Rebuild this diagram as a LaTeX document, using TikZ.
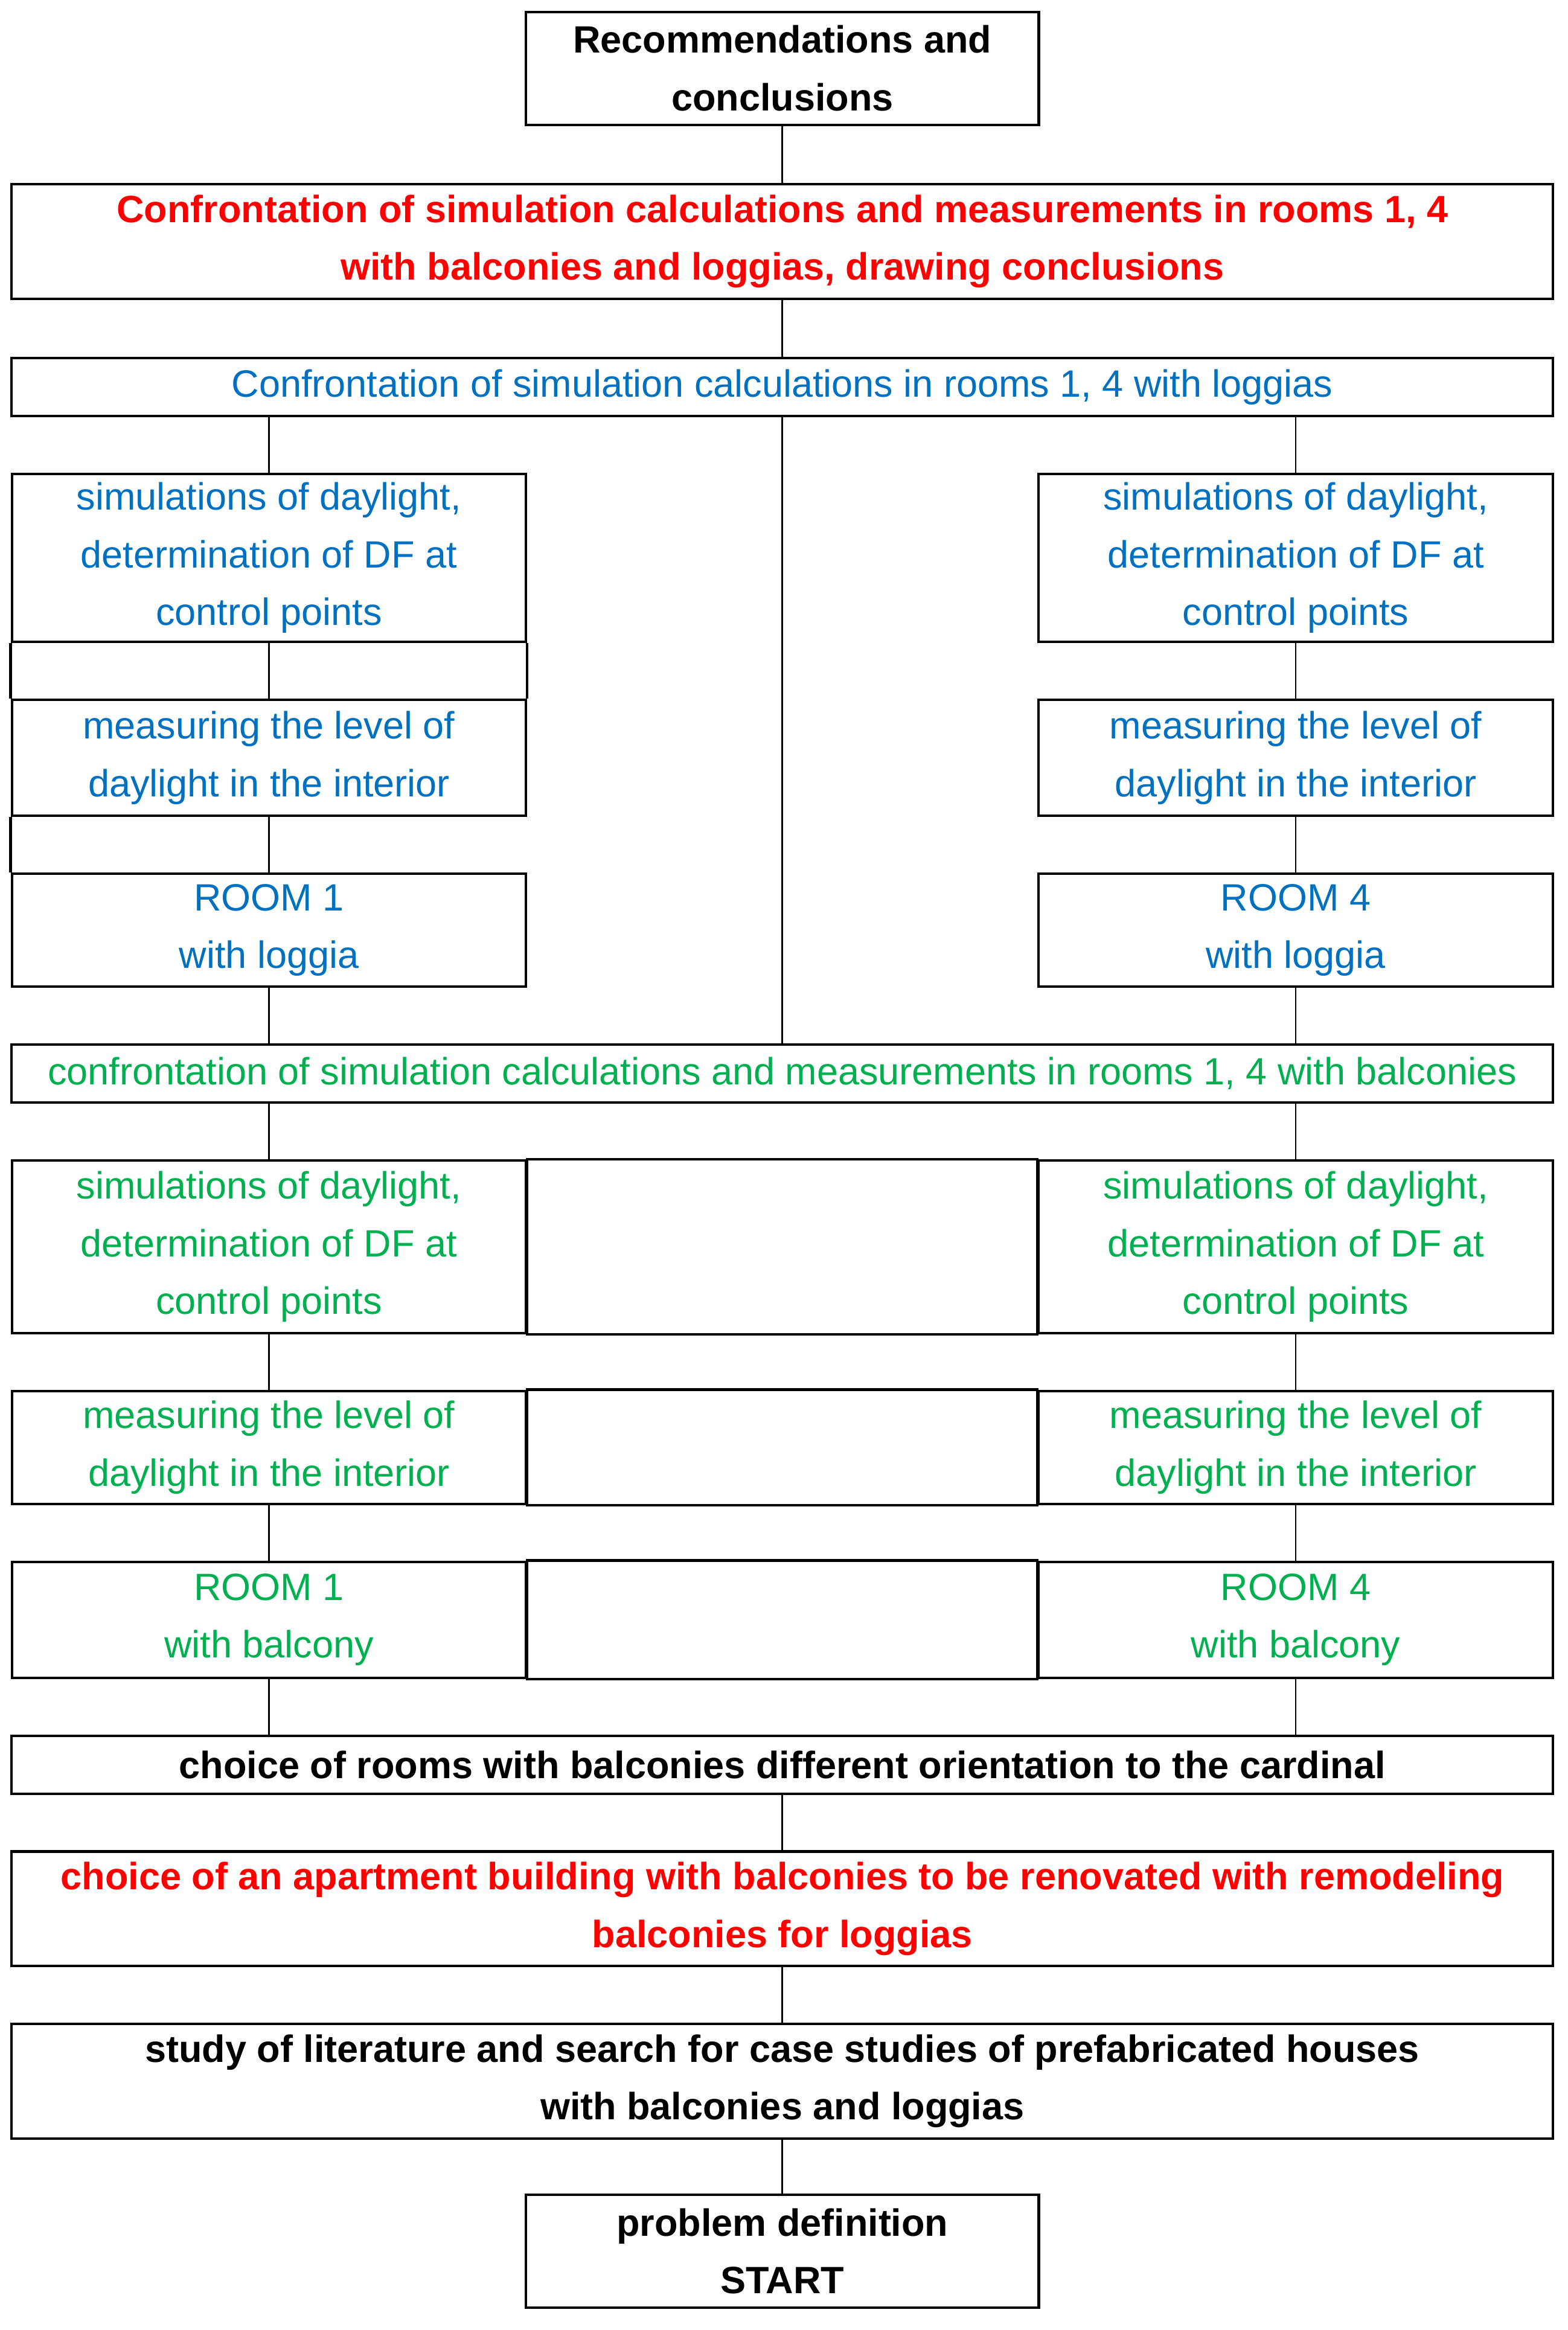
\documentclass[tikz,border=0pt]{standalone}
\usepackage{fontspec}
\setmainfont{Liberation Sans}
\definecolor{cred}{RGB}{255,0,0}
\definecolor{cblue}{RGB}{0,112,192}
\definecolor{cgreen}{RGB}{0,176,80}
\begin{document}
\begin{tikzpicture}[x=0.025cm,y=-0.025cm,
  box/.style={draw,line width=1.2pt,align=center,inner sep=0pt,font=\fontsize{18.2}{27.6}\selectfont},
  full/.style={box,minimum width=25.925cm},
  side/.style={box,minimum width=8.65cm},
  mid/.style={box,minimum width=8.625cm},
  conn/.style={line width=0.8pt},
  R/.style={text=cred,font=\fontsize{18.2}{27.6}\selectfont\bfseries},
  K/.style={text=black,font=\fontsize{18.2}{27.6}\selectfont\bfseries},
  B/.style={text=cblue},
  G/.style={text=cgreen}]
\useasboundingbox[fill=white] (0,0) rectangle (1055,1568);
\node[mid,K,minimum height=1.9cm] (top) at (526.5,46) {Recommendations and\\conclusions};
\node[full,R,minimum height=1.925cm] (red1) at (526.5,162.5) {Confrontation of simulation calculations and measurements in rooms 1, 4\\with balconies and loggias, drawing conclusions};
\node[full,B,minimum height=0.975cm] (blw) at (526.5,260.5) {Confrontation of simulation calculations in rooms 1, 4 with loggias};
\node[side,B,minimum height=2.825cm] (bsL) at (181,375.5) {simulations of daylight,\\determination of DF at\\control points};
\node[side,B,minimum height=2.825cm] (bsR) at (872,375.5) {simulations of daylight,\\determination of DF at\\control points};
\node[side,B,minimum height=1.95cm] (bmL) at (181,510) {measuring the level of\\daylight in the interior};
\node[side,B,minimum height=1.95cm] (bmR) at (872,510) {measuring the level of\\daylight in the interior};
\node[side,B,minimum height=1.9cm] (brL) at (181,626) {ROOM 1\\with loggia};
\node[side,B,minimum height=1.9cm] (brR) at (872,626) {ROOM 4\\with loggia};
\node[full,G,minimum height=0.975cm] (gw) at (526.5,722.5) {confrontation of simulation calculations and measurements in rooms 1, 4 with balconies};
\node[side,G,minimum height=2.9cm] (gsL) at (181,839) {simulations of daylight,\\determination of DF at\\control points};
\node[side,G,minimum height=2.9cm] (gsR) at (872,839) {simulations of daylight,\\determination of DF at\\control points};
\node[side,G,minimum height=1.9cm] (gmL) at (181,974) {measuring the level of\\daylight in the interior};
\node[side,G,minimum height=1.9cm] (gmR) at (872,974) {measuring the level of\\daylight in the interior};
\node[side,G,minimum height=1.95cm] (grL) at (181,1090) {ROOM 1\\with balcony};
\node[side,G,minimum height=1.95cm] (grR) at (872,1090) {ROOM 4\\with balcony};
\node[full,K,minimum height=0.975cm] (choice) at (526.5,1187.5) {choice of rooms with balconies different orientation to the cardinal};
\node[full,R,minimum height=1.925cm] (red2) at (526.5,1284.5) {choice of an apartment building with balconies to be renovated with remodeling\\balconies for loggias};
\node[full,K,minimum height=1.925cm] (study) at (526.5,1400.5) {study of literature and search for case studies of prefabricated houses\\with balconies and loggias};
\node[mid,K,minimum height=1.9cm] (start) at (526.5,1515) {problem definition\\START};
% middle cells of green rows
\draw[line width=1.2pt] (gsL.north east) rectangle (gsR.south west);
\draw[line width=1.2pt] (gmL.north east) rectangle (gmR.south west);
\draw[line width=1.2pt] (grL.north east) rectangle (grR.south west);
% extra side lines left
\draw[line width=1.2pt] (bsL.south west) -- (bmL.north west);
\draw[line width=1.2pt] (bsL.south east) -- (bmL.north east);
\draw[line width=1.2pt] (bmL.south west) -- (brL.north west);
% connectors
\draw[conn] (top) -- (red1);
\draw[conn] (red1) -- (blw);
\draw[conn] (blw) -- (gw);
\draw[conn] (bsL.north) -- (bsL.north |- blw.south);
\draw[conn] (bsR.north) -- (bsR.north |- blw.south);
\draw[conn] (bsL) -- (bmL);
\draw[conn] (bsR) -- (bmR);
\draw[conn] (bmL) -- (brL);
\draw[conn] (bmR) -- (brR);
\draw[conn] (brL.south) -- (brL.south |- gw.north);
\draw[conn] (brR.south) -- (brR.south |- gw.north);
\draw[conn] (gsL.north) -- (gsL.north |- gw.south);
\draw[conn] (gsR.north) -- (gsR.north |- gw.south);
\draw[conn] (gsL) -- (gmL);
\draw[conn] (gsR) -- (gmR);
\draw[conn] (gmL) -- (grL);
\draw[conn] (gmR) -- (grR);
\draw[conn] (grL.south) -- (grL.south |- choice.north);
\draw[conn] (grR.south) -- (grR.south |- choice.north);
\draw[conn] (choice) -- (red2);
\draw[conn] (red2) -- (study);
\draw[conn] (study) -- (start);
\end{tikzpicture}
\end{document}
